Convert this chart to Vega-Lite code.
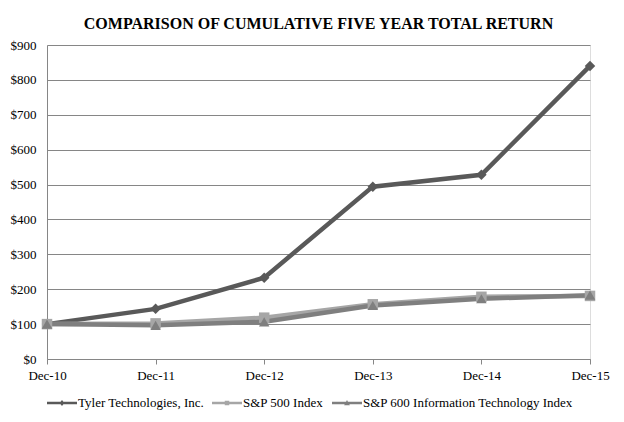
{
  "$schema": "https://vega.github.io/schema/vega-lite/v6.json",
  "width": 543,
  "height": 314,
  "autosize": {"type": "none"},
  "padding": {"left": 47, "top": 45, "right": 34, "bottom": 63},
  "background": "white",
  "config": {
    "axis": {"labelFont": "Liberation Serif", "labelFontSize": 13, "labelColor": "#000000", "labelFontWeight": "normal"},
    "legend": {"labelFont": "Liberation Serif"}
  },
  "title": {
    "text": "COMPARISON OF CUMULATIVE FIVE YEAR TOTAL RETURN",
    "font": "Liberation Serif",
    "fontSize": 16,
    "fontWeight": "bold",
    "color": "#000000",
    "anchor": "middle",
    "offset": 7
  },
  "data": {
    "values": [
      {"date": "Dec-10", "series": "Tyler Technologies, Inc.", "value": 100},
      {"date": "Dec-11", "series": "Tyler Technologies, Inc.", "value": 143.7},
      {"date": "Dec-12", "series": "Tyler Technologies, Inc.", "value": 233},
      {"date": "Dec-13", "series": "Tyler Technologies, Inc.", "value": 494},
      {"date": "Dec-14", "series": "Tyler Technologies, Inc.", "value": 528},
      {"date": "Dec-15", "series": "Tyler Technologies, Inc.", "value": 840},
      {"date": "Dec-10", "series": "S&P 500 Index", "value": 100},
      {"date": "Dec-11", "series": "S&P 500 Index", "value": 102.1},
      {"date": "Dec-12", "series": "S&P 500 Index", "value": 118.5},
      {"date": "Dec-13", "series": "S&P 500 Index", "value": 156.8},
      {"date": "Dec-14", "series": "S&P 500 Index", "value": 178.3},
      {"date": "Dec-15", "series": "S&P 500 Index", "value": 180.8},
      {"date": "Dec-10", "series": "S&P 600 Information Technology Index", "value": 100},
      {"date": "Dec-11", "series": "S&P 600 Information Technology Index", "value": 96.4},
      {"date": "Dec-12", "series": "S&P 600 Information Technology Index", "value": 106.5},
      {"date": "Dec-13", "series": "S&P 600 Information Technology Index", "value": 153.5},
      {"date": "Dec-14", "series": "S&P 600 Information Technology Index", "value": 172.5},
      {"date": "Dec-15", "series": "S&P 600 Information Technology Index", "value": 183}
    ]
  },
  "encoding": {
    "x": {
      "field": "date",
      "type": "ordinal",
      "scale": {"type": "point", "padding": 0},
      "axis": {
        "title": null,
        "labelAngle": 0,
        "labelFont": "Liberation Serif",
        "labelFontSize": 13,
        "labelColor": "#000000",
        "domainColor": "#868686",
        "tickColor": "#868686",
        "tickSize": 5,
        "labelPadding": 5,
        "grid": false
      }
    },
    "y": {
      "field": "value",
      "type": "quantitative",
      "scale": {"domain": [0, 900], "nice": false},
      "axis": {
        "title": null,
        "values": [0, 100, 200, 300, 400, 500, 600, 700, 800, 900],
        "format": "$,d",
        "labelFont": "Liberation Serif",
        "labelFontSize": 13,
        "labelColor": "#000000",
        "domainColor": "#868686",
        "ticks": false,
        "labelPadding": 11,
        "gridColor": "#868686",
        "gridWidth": 1
      }
    },
    "color": {
      "field": "series",
      "type": "nominal",
      "scale": {
        "domain": ["Tyler Technologies, Inc.", "S&P 500 Index", "S&P 600 Information Technology Index"],
        "range": ["#595959", "#a6a6a6", "#7f7f7f"]
      },
      "legend": {
        "title": null,
        "orient": "bottom",
        "direction": "horizontal",
        "labelFont": "Liberation Serif",
        "labelFontSize": 13,
        "labelColor": "#000000",
        "symbolSize": 900,
        "symbolStrokeWidth": 0,
        "symbolOpacity": 1,
        "labelOffset": 1,
        "columnPadding": 8,
        "offset": 6,
        "labelLimit": 300
      }
    }
  },
  "layer": [
    {
      "mark": {"type": "line", "strokeWidth": 4.5},
      "encoding": {}
    },
    {
      "mark": {"type": "point", "filled": true, "size": 110, "opacity": 1},
      "encoding": {
        "shape": {
          "condition": [
            {"test": "datum.series === 'S&P 500 Index'", "value": "square"},
            {"test": "datum.series === 'S&P 600 Information Technology Index'", "value": "triangle-up"}
          ],
          "value": "diamond"
        }
      }
    },
    {
      "transform": [{"filter": "datum.value < 0"}],
      "mark": {"type": "point", "filled": true, "opacity": 1},
      "encoding": {
        "shape": {
          "field": "series",
          "type": "nominal",
          "scale": {
            "domain": ["Tyler Technologies, Inc.", "S&P 500 Index", "S&P 600 Information Technology Index"],
            "range": [
              "M-1,-0.08L1,-0.08L1,0.08L-1,0.08Z M0,-0.2L0.16,0L0,0.2L-0.16,0Z",
              "M-1,-0.08L1,-0.08L1,0.08L-1,0.08Z M-0.15,-0.15L0.15,-0.15L0.15,0.15L-0.15,0.15Z",
              "M-1,-0.08L1,-0.08L1,0.08L-1,0.08Z M0,-0.2L0.19,0.15L-0.19,0.15Z"
            ]
          }
        }
      }
    }
  ]
}
